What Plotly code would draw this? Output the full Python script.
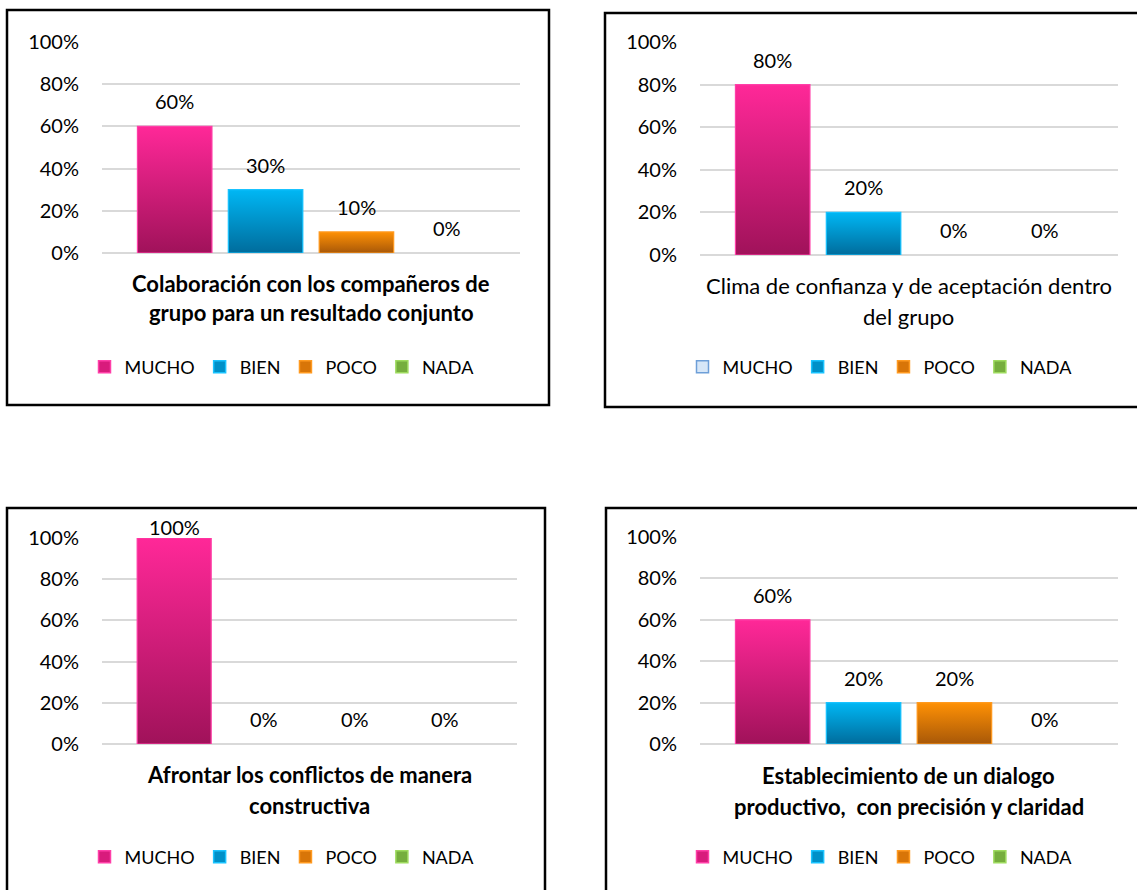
import plotly.graph_objects as go

# ---------------- data ----------------
series = ["MUCHO", "BIEN", "POCO", "NADA"]

values_1 = [0.60, 0.30, 0.10, 0.00]
values_2 = [0.80, 0.20, 0.00, 0.00]
values_3 = [1.00, 0.00, 0.00, 0.00]
values_4 = [0.60, 0.20, 0.20, 0.00]

title_1 = ["Colaboración con los compañeros de", "grupo para un resultado conjunto"]
title_2 = ["Clima de confianza y de aceptación dentro", "del grupo"]
title_3 = ["Afrontar los conflictos de manera", "constructiva"]
title_4 = ["Establecimiento de un dialogo", "productivo,\u00a0 con precisión y claridad"]

y_ticks = [0, 0.2, 0.4, 0.6, 0.8, 1.0]

# ---------------- styles ----------------
W, H = 1137, 890
FONT = "Lato, 'Open Sans', sans-serif"
FS_TICK = 20
FS_LABEL = 20
FS_TITLE = 22
FS_LEG = 18

grad_top = ["#FF2898", "#00B7F4", "#FF9105", "#93D152"]
grad_bot = ["#A0125A", "#006C9C", "#A85808", "#5A8A2C"]
mid_col = ["#D81B7C", "#0090C8", "#D87508", "#76AE3E"]
edge_col = ["#FF3FA8", "#19C3FF", "#FF9A20", "#9EDB5E"]
legend_fill = [mid_col, mid_col, mid_col, mid_col]
legend_line = [edge_col, edge_col, edge_col, edge_col]
# second chart shows a pale-blue MUCHO legend key
legend_fill[1] = ["#D7E7F8"] + mid_col[1:]
legend_line[1] = ["#6E9FD8"] + edge_col[1:]

def px(x):
    return x / W

def py(y):
    return 1 - y / H

panels = [
    dict(vals=values_1, title=title_1, bold=True, plot=(102, 520, 42, 253),
         box=(7, 10, 549, 405), title_y=(283, 312), leg=(282, 367)),
    dict(vals=values_2, title=title_2, bold=False, plot=(700, 1118, 42, 255),
         box=(605, 13, 1150, 407), title_y=(286, 316), leg=(880, 367)),
    dict(vals=values_3, title=title_3, bold=True, plot=(102, 517, 538, 744),
         box=(7, 508, 545, 900), title_y=(774, 805), leg=(282, 857)),
    dict(vals=values_4, title=title_4, bold=True, plot=(700, 1118, 537, 744),
         box=(606, 508, 1150, 900), title_y=(775, 806), leg=(880, 857)),
]

BAR_W = 0.82
X_RANGE = [-0.8, 3.8]

fig = go.Figure()
annotations = []
shapes = []
layout_extra = {}

for k, p in enumerate(panels):
    n = k + 1
    xa = "x" if n == 1 else f"x{n}"
    ya = "y" if n == 1 else f"y{n}"
    lg = "legend" if n == 1 else f"legend{n}"
    x0, x1, ytop, ybot = p["plot"]
    plot_h = ybot - ytop

    for i, (s, v) in enumerate(zip(series, p["vals"])):
        # the bar itself
        fig.add_trace(go.Bar(
            x=[i], y=[v], width=[BAR_W], name=s, showlegend=False,
            marker=dict(color=mid_col[i], line=dict(width=0)),
            xaxis=xa, yaxis=ya, hoverinfo="skip"))
        # vertical gradient shading of the same bar
        if v > 0:
            fig.add_trace(go.Scatter(
                x=[i - BAR_W / 2, i + BAR_W / 2, i + BAR_W / 2, i - BAR_W / 2, i - BAR_W / 2],
                y=[0, 0, v, v, 0], mode="lines", fill="toself",
                fillgradient=dict(type="vertical",
                                  colorscale=[[0, grad_bot[i]], [1, grad_top[i]]]),
                line=dict(width=1.2, color=edge_col[i]),
                showlegend=False, hoverinfo="skip", xaxis=xa, yaxis=ya))
        # data label
        shift = min(25, 11 + (1 - v) * plot_h)
        annotations.append(dict(
            x=i, y=v, xref=xa, yref=ya, text=f"{round(v * 100)}%", showarrow=False,
            yshift=shift, yanchor="middle", xanchor="center",
            font=dict(family=FONT, size=FS_LABEL, color="#000000")))

    # legend keys
    for i, s in enumerate(series):
        fig.add_trace(go.Bar(
            x=[None], y=[None], name=s, legend=lg,
            marker=dict(color=legend_fill[k][i], line=dict(color=legend_line[k][i], width=1.5)),
            xaxis=xa, yaxis=ya))

    layout_extra["xaxis" if n == 1 else f"xaxis{n}"] = dict(
        domain=[px(x0), px(x1)], range=X_RANGE, visible=False,
        anchor=ya, fixedrange=True)
    layout_extra["yaxis" if n == 1 else f"yaxis{n}"] = dict(
        domain=[py(ybot), py(ytop)], range=[0, 1], anchor=xa,
        tickvals=y_ticks, tickformat=".0%", showgrid=True,
        gridcolor="#D9D9D9", gridwidth=2, zeroline=True, zerolinecolor="#D9D9D9",
        zerolinewidth=2, showline=False, ticks="", ticklabelstandoff=22,
        tickfont=dict(family=FONT, size=FS_TICK, color="#000000"), fixedrange=True)
    layout_extra[lg] = dict(
        orientation="h", x=px(p["leg"][0]), y=py(p["leg"][1]),
        xanchor="center", yanchor="middle", bgcolor="rgba(0,0,0,0)",
        font=dict(family=FONT, size=FS_LEG, color="#000000"),
        itemclick=False, itemdoubleclick=False)

    # chart title lines (below plot)
    for line, ty in zip(p["title"], p["title_y"]):
        txt = f"<b>{line}</b>" if p["bold"] else line
        annotations.append(dict(
            x=px((x0 + x1) / 2), y=py(ty), xref="paper", yref="paper", text=txt,
            showarrow=False, xanchor="center", yanchor="middle",
            font=dict(family=FONT, size=FS_TITLE, color="#000000")))

    # chart border
    bx0, by0, bx1, by1 = p["box"]
    shapes.append(dict(type="rect", xref="paper", yref="paper",
                       x0=px(bx0), x1=px(bx1), y0=py(by1), y1=py(by0),
                       line=dict(color="#000000", width=2.5), fillcolor="rgba(0,0,0,0)"))

fig.update_layout(
    width=W, height=H, margin=dict(l=0, r=0, t=0, b=0, pad=0, autoexpand=False),
    paper_bgcolor="white", plot_bgcolor="white",
    barmode="overlay", annotations=annotations, shapes=shapes,
    font=dict(family=FONT, size=FS_LEG, color="#000000"),
    **layout_extra)

fig.write_html("out.html")
